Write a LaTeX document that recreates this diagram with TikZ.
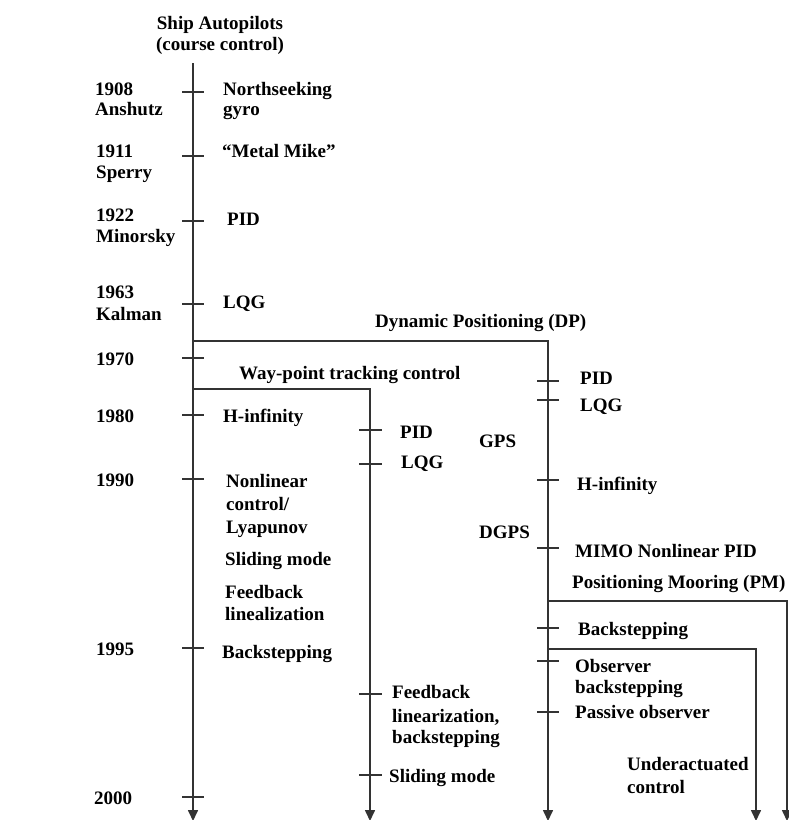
\documentclass[tikz,border=0pt]{standalone}
\usepackage{fontspec}
\setmainfont{Liberation Serif}
\usetikzlibrary{arrows.meta}
\begin{document}
\begin{tikzpicture}[x=1pt,y=-1pt,
  lbl/.style={anchor=base west,inner sep=0pt,font=\fontsize{19}{22}\selectfont\bfseries},
  ctr/.style={anchor=base,inner sep=0pt,font=\fontsize{19}{22}\selectfont\bfseries},
  axis/.style={draw=black!80,line width=1.6pt,-{Triangle[width=10pt,length=11pt]}},
  tickmark/.style={draw=black!80,line width=1.4pt}]
\useasboundingbox (0,0) rectangle (789,820);
\fill[white] (0,0) rectangle (789,820);
% axes
\coordinate (aTop) at (193,63);
\coordinate (aEnd) at (193,821);
\coordinate (dpStart) at (193,341);
\coordinate (dpEnd) at (548,821);
\coordinate (wpStart) at (193,389);
\coordinate (wpEnd) at (370,821);
\coordinate (pmStart) at (548,601);
\coordinate (pmEnd) at (787,821);
\coordinate (uaStart) at (548,649);
\coordinate (uaEnd) at (756,821);
\draw[axis] (aTop) -- (aEnd);
\draw[axis] (dpStart) -| (dpEnd);
\draw[axis] (wpStart) -| (wpEnd);
\draw[axis] (pmStart) -| (pmEnd);
\draw[axis] (uaStart) -| (uaEnd);
% ticks
\foreach \y in {92,156,221,304,358,415,479,648,797}
  \draw[tickmark] (182,\y) -- (204,\y);
\foreach \y in {430,464,694,775}
  \draw[tickmark] (359,\y) -- (382,\y);
\foreach \y in {381,400,480,548,628,661,712}
  \draw[tickmark] (537,\y) -- (559,\y);
% title
\node[ctr] (t1) at (220,29) {Ship Autopilots};
\node[ctr] (t2) at (220,50) {(course control)};
% years
\node[lbl] (y1908) at (95,95) {1908};
\node[lbl] (anshutz) at (95,115) {Anshutz};
\node[lbl] (y1911) at (96,157) {1911};
\node[lbl] (sperry) at (96,178) {Sperry};
\node[lbl] (y1922) at (96,221) {1922};
\node[lbl] (minorsky) at (96,242) {Minorsky};
\node[lbl] (y1963) at (96,298) {1963};
\node[lbl] (kalman) at (96,320) {Kalman};
\node[lbl] (y1970) at (96,365) {1970};
\node[lbl] (y1980) at (96,422) {1980};
\node[lbl] (y1990) at (96,486) {1990};
\node[lbl] (y1995) at (96,655) {1995};
\node[lbl] (y2000) at (94,804) {2000};
% autopilot column
\node[lbl] (north) at (223,95) {Northseeking};
\node[lbl] (gyro) at (223,115) {gyro};
\node[lbl] (metal) at (222,157) {“Metal Mike”};
\node[lbl] (pidA) at (227,225) {PID};
\node[lbl] (lqgA) at (223,308) {LQG};
\node[lbl] (hinfA) at (223,422) {H-infinity};
\node[lbl] (nonlin) at (226,487) {Nonlinear};
\node[lbl] (contr) at (226,510) {control/};
\node[lbl] (lyap) at (226,533) {Lyapunov};
\node[lbl] (slideA) at (225,565) {Sliding mode};
\node[lbl] (fbA) at (225,598) {Feedback};
\node[lbl] (linA) at (225,620) {linealization};
\node[lbl] (bsA) at (222,658) {Backstepping};
% branch titles
\node[lbl] (dpLbl) at (375,327) {Dynamic Positioning (DP)};
\node[lbl] (wpLbl) at (239,379) {Way-point tracking control};
\node[lbl] (pmLbl) at (572,588) {Positioning Mooring (PM)};
% way-point column
\node[lbl] (pidB) at (400,438) {PID};
\node[lbl] (lqgB) at (401,468) {LQG};
\node[lbl] (fbB) at (392,698) {Feedback};
\node[lbl] (linB) at (392,722) {linearization,};
\node[lbl] (bsB) at (392,743) {backstepping};
\node[lbl] (slideB) at (389,782) {Sliding mode};
% DP column
\node[lbl] (gps) at (479,447) {GPS};
\node[lbl] (dgps) at (479,538) {DGPS};
\node[lbl] (pidC) at (580,384) {PID};
\node[lbl] (lqgC) at (580,411) {LQG};
\node[lbl] (hinfC) at (577,490) {H-infinity};
\node[lbl] (mimo) at (575,557) {MIMO Nonlinear PID};
\node[lbl] (bsC) at (578,635) {Backstepping};
\node[lbl] (obs) at (575,672) {Observer};
\node[lbl] (obsbs) at (575,693) {backstepping};
\node[lbl] (passive) at (575,718) {Passive observer};
\node[lbl] (under) at (627,770) {Underactuated};
\node[lbl] (undc) at (627,793) {control};
\end{tikzpicture}
\end{document}
